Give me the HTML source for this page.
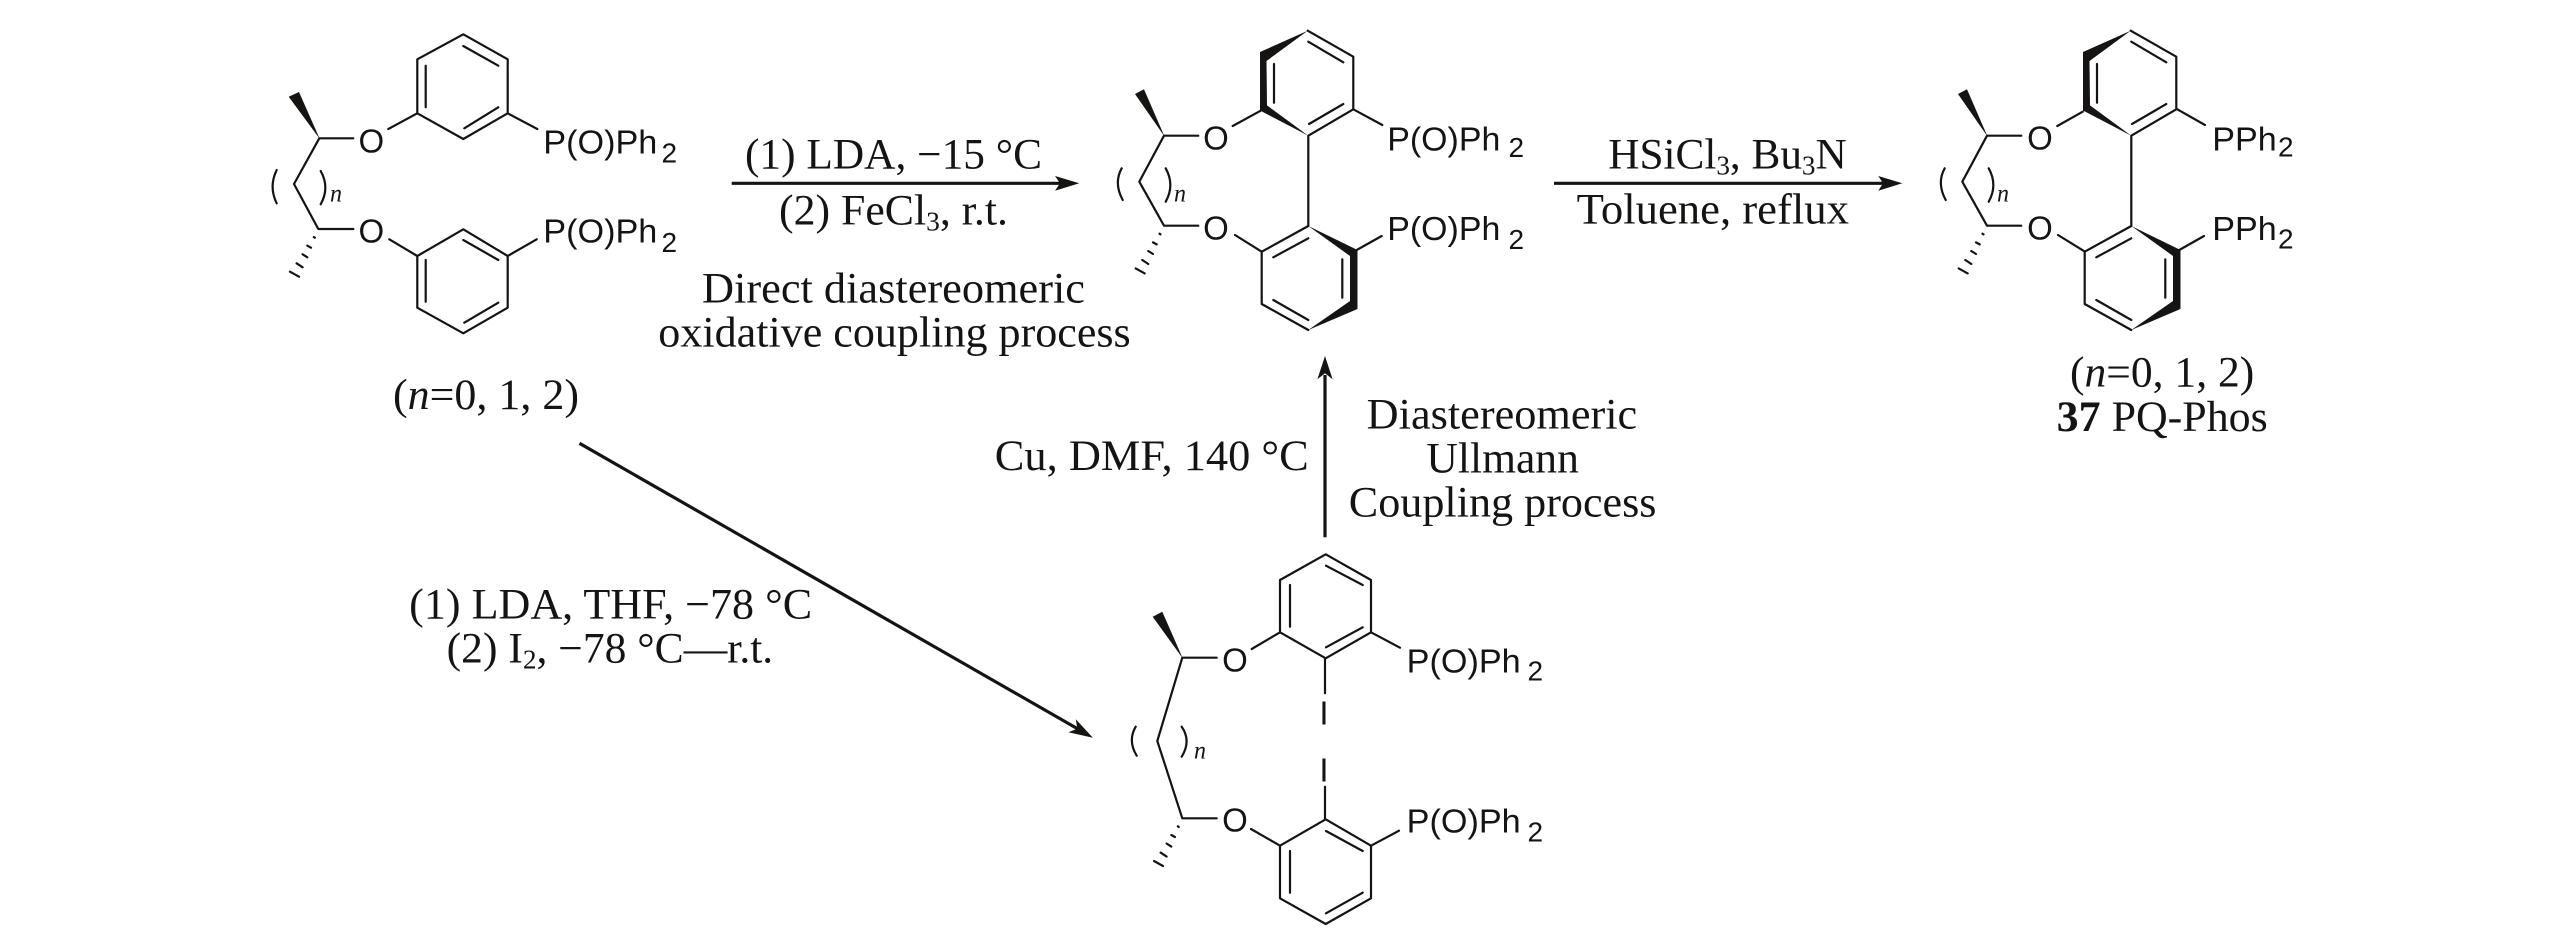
<!DOCTYPE html>
<html><head><meta charset="utf-8"><style>
html,body{margin:0;padding:0;background:#fff;width:2567px;height:945px;overflow:hidden}
svg{display:block}
.b{stroke:#151412;stroke-width:2.2;fill:none;stroke-linecap:round;stroke-linejoin:round}
.a{stroke:#151412;stroke-width:3.2;fill:none}
.f{fill:#151412;stroke:none}
text{fill:#151412}
.s{font-family:"Liberation Sans",sans-serif;font-size:33px}
.r{font-family:"Liberation Serif",serif;font-size:43px}
.n{font-family:"Liberation Serif",serif;font-style:italic;font-size:25px}
.i{font-style:italic}
.u{font-size:27px}
</style></head><body>
<svg width="2567" height="945" viewBox="0 0 2567 945" xmlns="http://www.w3.org/2000/svg">
<defs>
<g id="hash" class="b" stroke-width="2">
<path d="M-4.5 8L-3.5 8.7M-11 16.7L-7.3 18.7M-15.7 25.3L-11 28.3M-21.7 34.3L-15.7 38.3M-28.3 42.7L-19.3 47.7"/>
</g>
<g id="side3">
<path class="b" d="M1164 135.7L1139.3 181.7L1164 225.7L1198.3 225.7M1164 135.7L1198.3 135.7"/>
<path class="f" d="M1164.5 136.5L1135 94L1144 89.3Z"/>
<use href="#hash" x="1164" y="225.7"/>
<path class="b" d="M1121.7 168.3Q1113.5 183 1122.7 200M1165.7 168.3Q1175 185 1165.7 201.7"/>
<path class="f" d="M1308.3 135.7L1260 110.5L1266.5 105Z"/>
</g>
<g id="biaryl">
<path class="b" d="M1307.7 30.7L1353.3 56.7L1353.3 109.3L1308.3 135.7L1308.3 226M1308.3 41.7L1343.3 62.3M1343.3 104L1309 124M1274 64L1274 102.7M1308.3 226L1261.7 251.7L1261.7 304L1308.3 330M1273.3 257.3L1308.3 238.3M1273.3 300L1308.3 320M1342.3 259.3L1342.3 297.7"/>
<path class="f" d="M1307.7 30.7L1260 52L1260 111L1267 105.5L1266.5 61Z"/>
<path class="f" d="M1308.3 226L1357.5 250L1357.5 309L1350 302L1350 256Z"/>
<path class="f" d="M1308.3 330L1357.5 309L1350 301Z"/>
</g>
</defs>

<!-- Structure 1 -->
<path class="b" d="M463.3 34.3L507.7 59.3L507.7 113.3L463.3 139L417.3 113.3L417.3 59.3ZM463.3 46L498.3 65.7M498.3 107.3L464.3 128.3M425.7 65.7L425.7 107.3M388.3 129L417.3 113.3M507.7 113.3L537.3 129"/>
<path class="b" d="M463.3 229.3L507.7 256L507.7 307.7L463.3 333.3L417.3 307.7L417.3 256ZM463.3 240L498.3 260M425.7 260L425.7 301.7M498.3 302.7L464.3 322.7M389.3 239.3L417.3 256M507.7 256L536.7 239.3"/>
<path class="b" d="M319.3 138.3L294 184L318.3 229L353.3 229M319.3 138.3L353.3 138.3"/>
<path class="f" d="M319.8 139L288.7 96.7L299 92Z"/>
<use href="#hash" x="318.3" y="229"/>
<path class="b" d="M276.7 170Q268.5 186.7 276.7 203.3M320.7 171Q330 187.7 320.7 204.3"/>
<text class="n" x="330" y="201.7" textLength="12" lengthAdjust="spacingAndGlyphs">n</text>
<text class="s" x="371.3" y="152.7" text-anchor="middle">O</text>
<text class="s" x="371.3" y="242.7" text-anchor="middle">O</text>
<text class="s" x="543.3" y="153.3" textLength="114" lengthAdjust="spacingAndGlyphs">P(O)Ph</text>
<text class="s" x="661.5" y="162.7" font-size="27" style="font-size:28px">2</text>
<text class="s" x="543.3" y="242.7" textLength="114" lengthAdjust="spacingAndGlyphs">P(O)Ph</text>
<text class="s" x="661.5" y="252" style="font-size:28px">2</text>
<text class="r" x="393" y="409" textLength="186" lengthAdjust="spacingAndGlyphs">(<tspan class="i">n</tspan>=0, 1, 2)</text>

<!-- Arrow 1 -->
<path class="a" d="M731.7 183.3L1062 183.3"/>
<path class="f" d="M1079.3 183.3L1055 176L1060 183.3L1055 190.7Z"/>
<text class="r" x="745" y="168.3" textLength="297" lengthAdjust="spacingAndGlyphs">(1) LDA, −15 °C</text>
<text class="r" x="779" y="224.3" textLength="229" lengthAdjust="spacingAndGlyphs">(2) FeCl<tspan class="u" dy="6">3</tspan><tspan dy="-6">, r.t.</tspan></text>
<text class="r" x="702" y="302.3" textLength="383" lengthAdjust="spacingAndGlyphs">Direct diastereomeric</text>
<text class="r" x="658.3" y="346.7" textLength="472.4" lengthAdjust="spacingAndGlyphs">oxidative coupling process</text>

<!-- Structure 2 -->
<use href="#biaryl"/>
<use href="#side3"/>
<path class="b" d="M1232.7 126L1260.7 110.7M1235 235L1261.7 251.7M1353.3 109.3L1382.3 125M1356.7 250L1381.7 236"/>
<text class="n" x="1174" y="201.7" textLength="12" lengthAdjust="spacingAndGlyphs">n</text>
<text class="s" x="1216" y="149.3" text-anchor="middle">O</text>
<text class="s" x="1216" y="239.3" text-anchor="middle">O</text>
<text class="s" x="1387.3" y="150.7" textLength="113" lengthAdjust="spacingAndGlyphs">P(O)Ph</text>
<text class="s" x="1508.5" y="157" style="font-size:28px">2</text>
<text class="s" x="1387.3" y="240" textLength="113" lengthAdjust="spacingAndGlyphs">P(O)Ph</text>
<text class="s" x="1508.5" y="249" style="font-size:28px">2</text>

<!-- Arrow 2 -->
<path class="a" d="M1554 183.3L1885 183.3"/>
<path class="f" d="M1902.3 183.3L1878.3 176L1883 183.3L1878.3 190.7Z"/>
<text class="r" x="1608.3" y="168.3" textLength="238.4" lengthAdjust="spacingAndGlyphs">HSiCl<tspan class="u" dy="6">3</tspan><tspan dy="-6">, Bu</tspan><tspan class="u" dy="6">3</tspan><tspan dy="-6">N</tspan></text>
<text class="r" x="1576.7" y="223.3" textLength="272.3" lengthAdjust="spacingAndGlyphs">Toluene, reflux</text>

<!-- Structure 3 -->
<g transform="translate(823 0)"><use href="#biaryl"/><use href="#side3"/></g>
<path class="b" d="M2057.3 126L2082.7 111.7M2058 235L2085 251.7M2177.3 109.3L2205 125M2179.3 250L2204 236"/>
<text class="n" x="1997" y="201.7" textLength="12" lengthAdjust="spacingAndGlyphs">n</text>
<text class="s" x="2040" y="149.3" text-anchor="middle">O</text>
<text class="s" x="2040" y="239.3" text-anchor="middle">O</text>
<text class="s" x="2212.3" y="150.7" textLength="64.4" lengthAdjust="spacingAndGlyphs">PPh</text>
<text class="s" x="2278" y="156.5" style="font-size:28px">2</text>
<text class="s" x="2212.3" y="240" textLength="64.4" lengthAdjust="spacingAndGlyphs">PPh</text>
<text class="s" x="2278" y="248.5" style="font-size:28px">2</text>
<text class="r" x="2070" y="386.7" textLength="184.3" lengthAdjust="spacingAndGlyphs">(<tspan class="i">n</tspan>=0, 1, 2)</text>
<text class="r" x="2056.7" y="431" textLength="211" lengthAdjust="spacingAndGlyphs"><tspan font-weight="bold">37</tspan> PQ-Phos</text>

<!-- Arrow up -->
<path class="a" d="M1325 537.3L1325 375"/>
<path class="f" d="M1325 356L1317.4 379.3L1325 373.3L1332.6 379.3Z"/>
<text class="r" x="994.8" y="470" textLength="314" lengthAdjust="spacingAndGlyphs">Cu, DMF, 140 °C</text>
<text class="r" x="1366.7" y="428.3" textLength="270.5" lengthAdjust="spacingAndGlyphs">Diastereomeric</text>
<text class="r" x="1426.4" y="472.7" textLength="152.5" lengthAdjust="spacingAndGlyphs">Ullmann</text>
<text class="r" x="1348.8" y="516.7" textLength="307.7" lengthAdjust="spacingAndGlyphs">Coupling process</text>

<!-- Diagonal arrow -->
<path class="a" d="M579.5 443.3L1078 729"/>
<path class="f" d="M1092.9 737.7L1068.4 732.3L1077.3 728.8L1075.8 719.3Z"/>
<text class="r" x="409.2" y="618.3" textLength="402.9" lengthAdjust="spacingAndGlyphs">(1) LDA, THF, −78 °C</text>
<text class="r" x="446.7" y="662.7" textLength="326.5" lengthAdjust="spacingAndGlyphs">(2) I<tspan class="u" dy="6">2</tspan><tspan dy="-6">, −78 °C—r.t.</tspan></text>

<!-- Structure 4 -->
<path class="b" d="M1325.7 554.3L1371 580L1371 632.3L1325.7 658.3L1280 632.3L1280 580ZM1326 565.7L1362.7 585M1362.7 627.3L1326 647.3M1290 585L1290 626.7M1251.7 649L1280 632.3M1371 632.3L1400 647.7M1325 658.3L1325 693.3M1325 786.7L1325 819.3"/>
<path class="b" d="M1325.7 819.3L1371 845.7L1371 898.3L1325.7 924L1280 898.3L1280 845.7ZM1326 831L1362.7 851M1362.7 892.7L1326 913.3M1290 851L1290 892.7M1251 829L1280 845.7M1371 845.7L1399 830.7"/>
<path class="b" d="M1182.3 657.7L1157.3 741L1182.3 818.3L1216.7 818.3M1182.3 657.7L1216.7 657.7"/>
<path class="f" d="M1182.8 658.5L1152.7 616.7L1162.3 611.7Z"/>
<use href="#hash" x="1182.3" y="818.3"/>
<path class="b" d="M1135.7 726.7Q1127.5 740.7 1136.7 755.7M1181.7 726.7Q1191.5 740.7 1181.7 756.7"/>
<text class="n" x="1194" y="758.3" textLength="12" lengthAdjust="spacingAndGlyphs">n</text>
<text class="s" x="1235" y="671.7" text-anchor="middle">O</text>
<text class="s" x="1235" y="831.7" text-anchor="middle">O</text>
<text class="s" x="1324" y="724.3" text-anchor="middle">I</text>
<text class="s" x="1324" y="781.7" text-anchor="middle">I</text>
<text class="s" x="1406.7" y="672.7" textLength="114" lengthAdjust="spacingAndGlyphs">P(O)Ph</text>
<text class="s" x="1527.5" y="680.7" style="font-size:28px">2</text>
<text class="s" x="1406.7" y="832.7" textLength="114" lengthAdjust="spacingAndGlyphs">P(O)Ph</text>
<text class="s" x="1527.5" y="841.7" style="font-size:28px">2</text>
</svg>
</body></html>
